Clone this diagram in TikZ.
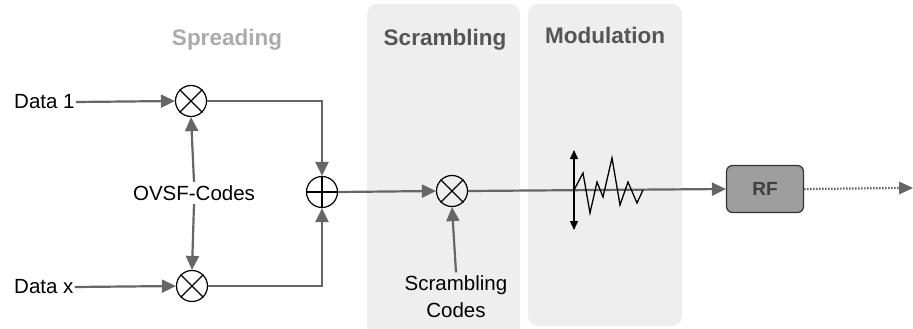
\documentclass[tikz,border=0pt]{standalone}
\usepackage{fontspec}
\setmainfont{Liberation Sans}
\usetikzlibrary{arrows.meta,calc}
\definecolor{panel}{HTML}{EEEEEE}
\definecolor{conn}{HTML}{666666}
\definecolor{title}{HTML}{555555}
\definecolor{rffill}{HTML}{9E9E9E}
\tikzset{
  every node/.style={font=\fontsize{20.5}{24}\selectfont},
  panelbox/.style={fill=panel, draw=none, rounded corners=10pt},
  titletext/.style={font=\fontsize{22.5}{26}\selectfont\bfseries, text=title, anchor=base},
  mixer/.style={circle, draw=black, line width=1.2pt, minimum size=31pt, inner sep=0pt},
  conline/.style={draw=conn, line width=2.2pt, -{Triangle[length=14pt,width=13pt]}},
  dotline/.style={draw=conn, line width=2.2pt, dash pattern=on 1.6pt off 1.4pt},
  wave/.style={draw=black, line width=1.3pt},
}
\begin{document}
\begin{tikzpicture}[x=1pt,y=-1pt]
\useasboundingbox (0,0) rectangle (913,329);
% panels
\fill[panelbox] (367,4) rectangle (520,340);
\fill[panelbox] (528,4) rectangle (682,326);
% titles
\node[titletext, text=black!33] (tspread) at (227,46) {Spreading};
\node[titletext] (tscr) at (445,46) {Scrambling};
\node[titletext] (tmod) at (605,44) {Modulation};
% nodes
\node[anchor=west, inner sep=1pt] (d1) at (13,102) {Data 1};
\node[anchor=west, inner sep=1pt] (dx) at (13,287) {Data x};
\node[mixer] (m1) at (191,101) {};
\node[mixer] (mx) at (192,286) {};
\node (ovsf) at (194,193) {OVSF-Codes};
\node[mixer] (sum) at (322,192) {};
\node[mixer] (ms) at (452,191) {};
\node[align=center, font=\fontsize{20.5}{27}\selectfont] (sc) at (456,297) {Scrambling\\Codes};
\node[draw=black!80, line width=1.2pt, fill=rffill, rounded corners=6pt, minimum width=77pt, minimum height=47pt,
      font=\fontsize{19}{22}\selectfont\bfseries, text=black!75] (rf) at (765,189) {RF};
\coordinate (out) at (913,188);
% symbols in mixers
\draw[line width=1.2pt] (m1.north east) -- (m1.south west) (m1.north west) -- (m1.south east);
\draw[line width=1.2pt] (mx.north east) -- (mx.south west) (mx.north west) -- (mx.south east);
\draw[line width=1.2pt] (ms.north east) -- (ms.south west) (ms.north west) -- (ms.south east);
\draw[line width=1.2pt] (sum.north) -- (sum.south) (sum.west) -- (sum.east);
% connectors
\draw[conline] (d1.east) -- (m1.west);
\draw[conline] (dx.east) -- (mx.west);
\draw[conline] (ovsf.north) -- (m1.south);
\draw[conline] (ovsf.south) -- (mx.north);
\draw[conline] (m1.east) -| (sum.north);
\draw[conline] (mx.east) -| (sum.south);
\draw[conline] (sum.east) -- (ms.west);
\draw[conline] (sc.north) -- (ms.south);
\draw[conline] (ms.east) -- (rf.west);
\draw[dotline] (rf.east) -- ($(out)+(-13,0)$);
\fill[conn] (out) -- ++(-14,-6.5) -- ++(0,13) -- cycle;
% modulation waveform
\coordinate (wv) at (574,190);
\draw[wave, {Triangle[length=9pt,width=8pt]}-{Triangle[length=9pt,width=8pt]}] ($(wv)+(0,-40)$) -- ($(wv)+(0,40)$);
\draw[wave, line join=miter] (wv) -- (583,173) -- (590,213) -- (597,182) -- (603,197) -- (612,158) -- (620,205) -- (628,182) -- (637,203) -- (643,190);
\end{tikzpicture}
\end{document}
